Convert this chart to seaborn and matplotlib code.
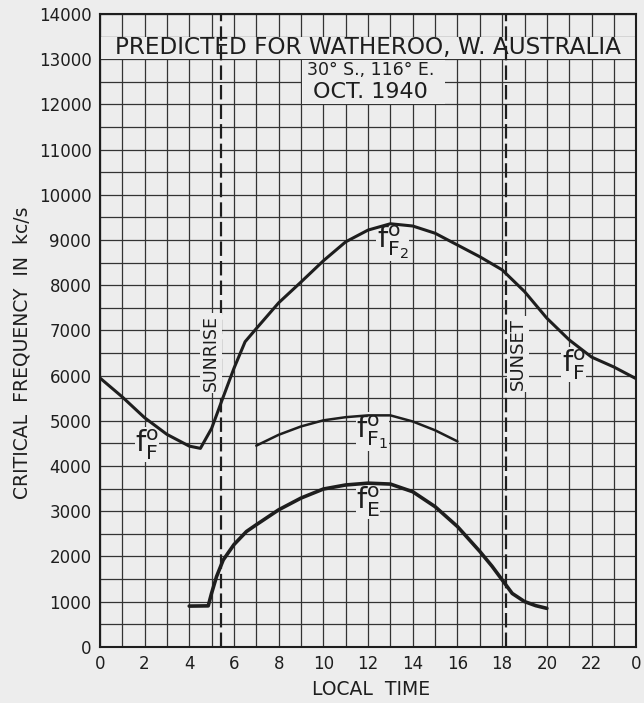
import matplotlib
matplotlib.use("Agg")
import matplotlib.pyplot as plt
import seaborn as sns
import pandas as pd
from matplotlib.patches import Rectangle

# readings (local time in hours, critical frequency in kc/s)
f2_hours = [0, 1, 2, 3, 4, 4.5, 5, 5.5, 6, 6.5, 7, 8, 9, 10, 11, 12, 13, 14, 15, 16, 17, 18, 19, 20, 21, 22, 23, 24]
f2_freq = [5950, 5530, 5070, 4700, 4440, 4390, 4830, 5500, 6160, 6750, 7040, 7610, 8070, 8540, 8960, 9220, 9360, 9310, 9150, 8890, 8630, 8340, 7860, 7270, 6790, 6410, 6190, 5930]

f1_hours = [7, 8, 9, 10, 11, 12, 13, 14, 15, 16]
f1_freq = [4450, 4690, 4875, 5010, 5080, 5120, 5120, 4985, 4790, 4545]

e_hours = [4, 4.85, 5, 5.22, 5.52, 6, 6.56, 7, 8, 9, 10, 11, 12, 13, 14, 15, 16, 17, 17.55, 18, 18.45, 19, 19.5, 20]
e_freq = [900, 905, 1185, 1550, 1920, 2260, 2550, 2700, 3030, 3290, 3490, 3580, 3620, 3600, 3430, 3100, 2660, 2110, 1780, 1480, 1180, 1000, 910, 850]

sunrise_hour = 5.4
sunset_hour = 18.15

x_ticks = list(range(0, 25, 2))
x_tick_labels = ["0", "2", "4", "6", "8", "10", "12", "14", "16", "18", "20", "22", "0"]
y_ticks = list(range(0, 14001, 1000))

paper = "#ededed"
ink = "#1e1e1e"

sns.set_style("white")
plt.rcParams["font.family"] = ["DejaVu Sans"]
plt.rcParams["mathtext.fontset"] = "dejavusans"

fig = plt.figure(figsize=(6.44, 7.03), dpi=100, facecolor=paper)
ax = fig.add_axes([0.155, 0.080, 0.833, 0.900])
ax.set_facecolor(paper)

df_f2 = pd.DataFrame({"hour": f2_hours, "freq": f2_freq})
df_f1 = pd.DataFrame({"hour": f1_hours, "freq": f1_freq})
df_e = pd.DataFrame({"hour": e_hours, "freq": e_freq})

sns.lineplot(data=df_f2, x="hour", y="freq", ax=ax, color=ink, lw=2.2, zorder=4)
sns.lineplot(data=df_f1, x="hour", y="freq", ax=ax, color=ink, lw=1.8, zorder=4)
sns.lineplot(data=df_e, x="hour", y="freq", ax=ax, color=ink, lw=2.6, zorder=4)
for ln in ax.lines:
    ln.set_solid_joinstyle("round")
    ln.set_solid_capstyle("round")

ax.set_xlim(0, 24)
ax.set_ylim(0, 14000)
ax.set_xticks(x_ticks)
ax.set_xticklabels(x_tick_labels)
ax.set_xticks(range(0, 25), minor=True)
ax.set_yticks(y_ticks)
ax.set_yticks(range(0, 14001, 500), minor=True)
ax.grid(True, which="both", color="#333333", lw=0.9, zorder=1)
ax.set_axisbelow(True)
ax.tick_params(which="both", length=0, labelsize=12, colors=ink, pad=6)
for s in ax.spines.values():
    s.set_color(ink)
    s.set_linewidth(1.5)

# sunrise / sunset
for h in (sunrise_hour, sunset_hour):
    ax.axvline(h, color=ink, lw=1.6, ls=(0, (6.5, 2.3)), zorder=3)
ax.text(4.97, 6500, "SUNRISE", rotation=90, ha="center", va="center",
        fontsize=12.5, color=ink, zorder=5,
        bbox=dict(facecolor=paper, edgecolor="none", pad=1.5))
ax.text(18.7, 6480, "SUNSET", rotation=90, ha="center", va="center",
        fontsize=13, color=ink, zorder=5,
        bbox=dict(facecolor=paper, edgecolor="none", pad=1.5))

# title block
ax.add_patch(Rectangle((0.03, 13015), 23.94, 470, facecolor=paper, edgecolor="none", zorder=2))
ax.add_patch(Rectangle((9.03, 12015), 6.4, 970, facecolor=paper, edgecolor="none", zorder=2))
ax.text(12, 13250, "PREDICTED FOR WATHEROO, W. AUSTRALIA", ha="center", va="center",
        fontsize=16.7, color=ink, zorder=5)
ax.text(12.1, 12760, "30° S., 116° E.", ha="center", va="center", fontsize=12.5, color=ink, zorder=5)
ax.text(12.1, 12280, "OCT. 1940", ha="center", va="center", fontsize=16, color=ink, zorder=5)

# curve labels
lab = dict(ha="center", va="center", fontsize=21, color=ink, zorder=3.5,
           bbox=dict(facecolor=paper, edgecolor="none", pad=0.3))
ax.text(2.1, 4470, r"$\mathrm{f}^{\mathrm{o}}_{\mathrm{F}}$", **lab)
ax.text(13.1, 8950, r"$\mathrm{f}^{\mathrm{o}}_{\mathrm{F_2}}$", **lab)
ax.text(12.2, 4760, r"$\mathrm{f}^{\mathrm{o}}_{\mathrm{F_1}}$", **lab)
ax.text(12.0, 3210, r"$\mathrm{f}^{\mathrm{o}}_{\mathrm{E}}$", **lab)
ax.text(21.2, 6240, r"$\mathrm{f}^{\mathrm{o}}_{\mathrm{F}}$", **lab)

ax.set_xlabel("LOCAL  TIME", fontsize=13.5, color=ink)
ax.xaxis.set_label_coords(0.506, -0.053)
ax.set_ylabel("CRITICAL  FREQUENCY  IN  kc/s", fontsize=13.5, color=ink)
ax.yaxis.set_label_coords(-0.128, 0.465)

fig.savefig("out.png", dpi=100, facecolor=paper)
